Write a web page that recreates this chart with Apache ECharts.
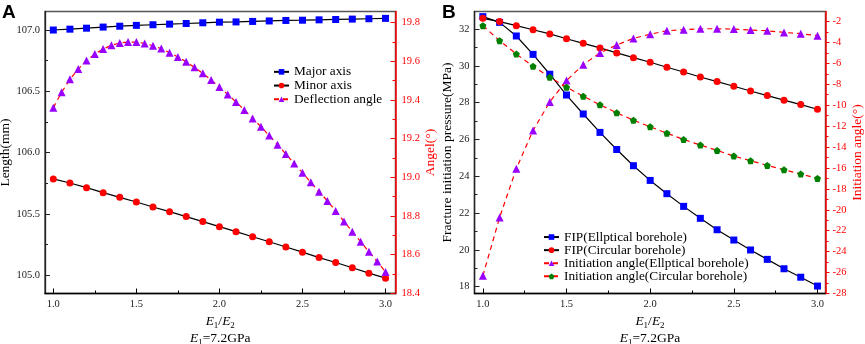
<!DOCTYPE html>
<html>
<head>
<meta charset="utf-8">
<script src="https://cdn.jsdelivr.net/npm/echarts@6/dist/echarts.min.js"></script>
<style>
  html, body { margin: 0; padding: 0; background: #fff; }
  #chart { width: 865px; height: 344px; }
</style>
</head>
<body>
<div id="chart"></div>
<script>
// x values (E1/E2)
const ratioStep01 = [1.0, 1.1, 1.2, 1.3, 1.4, 1.5, 1.6, 1.7, 1.8, 1.9, 2.0, 2.1, 2.2, 2.3, 2.4, 2.5, 2.6, 2.7, 2.8, 2.9, 3.0]
const ratioStep005 = [1.0, 1.05, 1.1, 1.15, 1.2, 1.25, 1.3, 1.35, 1.4, 1.45, 1.5, 1.55, 1.6, 1.65, 1.7, 1.75, 1.8, 1.85, 1.9, 1.95,
  2.0, 2.05, 2.1, 2.15, 2.2, 2.25, 2.3, 2.35, 2.4, 2.45, 2.5, 2.55, 2.6, 2.65, 2.7, 2.75, 2.8, 2.85, 2.9, 2.95, 3.0]

// panel A
const majorAxis = [107.000, 107.007, 107.015, 107.024, 107.031, 107.038, 107.043, 107.048, 107.053, 107.059, 107.064,
  107.066, 107.070, 107.074, 107.078, 107.080, 107.083, 107.086, 107.089, 107.092, 107.095]
const minorAxis = [105.786, 105.753, 105.715, 105.674, 105.636, 105.598, 105.557, 105.519, 105.479, 105.438, 105.397,
  105.356, 105.315, 105.274, 105.231, 105.189, 105.145, 105.105, 105.062, 105.018, 104.977]
const deflectionAngle = [19.360, 19.440, 19.507, 19.560, 19.604, 19.638, 19.664, 19.683, 19.695, 19.700, 19.700,
  19.693, 19.681, 19.666, 19.645, 19.623, 19.598, 19.569, 19.538, 19.504, 19.468, 19.429, 19.390, 19.348, 19.305,
  19.262, 19.216, 19.169, 19.121, 19.072, 19.024, 18.974, 18.926, 18.878, 18.826, 18.772, 18.719, 18.667, 18.615,
  18.564, 18.510]

// panel B
const fipElliptical = [32.67, 32.36, 31.62, 30.62, 29.54, 28.41, 27.38, 26.38, 25.45, 24.57, 23.77,
  23.05, 22.36, 21.71, 21.09, 20.53, 19.99, 19.48, 18.97, 18.51, 18.03]
const fipCircular = [32.58, 32.40, 32.18, 31.96, 31.73, 31.47, 31.22, 30.97, 30.70, 30.44, 30.19,
  29.92, 29.66, 29.39, 29.14, 28.89, 28.63, 28.38, 28.13, 27.89, 27.64]
const angleElliptical = [-26.31, -20.74, -16.07, -12.42, -9.69, -7.65, -6.13, -5.01, -4.25, -3.62, -3.22,
  -2.89, -2.79, -2.70, -2.70, -2.73, -2.82, -2.89, -3.05, -3.17, -3.36]
const angleCircular = [-2.40, -3.84, -5.11, -6.29, -7.34, -8.29, -9.15, -9.97, -10.73, -11.44, -12.07,
  -12.68, -13.28, -13.82, -14.33, -14.87, -15.31, -15.76, -16.17, -16.59, -17.00]

// tick labels
const ratioTicks = [1.0, 1.5, 2.0, 2.5, 3.0]
const ratioMinor = [1.25, 1.75, 2.25, 2.75]
const lengthTicks = [105.0, 105.5, 106.0, 106.5, 107.0]
const lengthMinor = [105.25, 105.75, 106.25, 106.75]
const angelTicks = [18.4, 18.6, 18.8, 19.0, 19.2, 19.4, 19.6, 19.8]
const angelMinor = [18.5, 18.7, 18.9, 19.1, 19.3, 19.5, 19.7]
const pressureTicks = [18, 20, 22, 24, 26, 28, 30, 32]
const pressureMinor = [19, 21, 23, 25, 27, 29, 31]
const initAngleTicks = [-28, -26, -24, -22, -20, -18, -16, -14, -12, -10, -8, -6, -4, -2]
const initAngleMinor = [-27, -25, -23, -21, -19, -17, -15, -13, -11, -9, -7, -5, -3]

const serif = 'Liberation Serif, Times New Roman, serif'
const RED = '#ff0000'
const pentagon = 'path://M0,-10L9.51,-3.09L5.88,8.09L-5.88,8.09L-9.51,-3.09Z'

const zip = (xs, ys) => xs.map((x, i) => [x, ys[i]])

const xName = '{i|E}{s|1}{n|/}{i|E}{s|2}\n{i|E}{s|1}{n|=7.2GPa}'
const xNameRich = {
  i: { fontFamily: serif, fontStyle: 'italic', fontSize: 13.5, lineHeight: 17, color: '#000' },
  n: { fontFamily: serif, fontSize: 13.5, lineHeight: 17, color: '#000' },
  s: { fontFamily: serif, fontSize: 9, lineHeight: 10, verticalAlign: 'bottom', color: '#000' },
}

const mainX = (gridIndex, max) => ({
  type: 'value', gridIndex, min: 0.95, max,
  name: xName, nameLocation: 'middle', nameGap: 15,
  nameTextStyle: { rich: xNameRich },
  axisLine: { lineStyle: { color: '#000', width: 1.3 } },
  axisTick: { inside: true, length: 5, customValues: ratioTicks, lineStyle: { color: '#000' } },
  axisLabel: { customValues: ratioTicks, formatter: (v) => v.toFixed(1), margin: 5, fontFamily: serif, fontSize: 10.5, color: '#222' },
  splitLine: { show: false },
})

const minorX = (gridIndex, max) => ({
  type: 'value', gridIndex, min: 0.95, max, position: 'bottom',
  axisLine: { show: false },
  axisTick: { inside: true, length: 3, customValues: ratioMinor, lineStyle: { color: '#000' } },
  axisLabel: { show: false },
  splitLine: { show: false },
})

const minorY = (gridIndex, position, min, max, values, color, inside) => ({
  type: 'value', gridIndex, position, min, max,
  axisLine: { show: false },
  axisTick: { show: true, inside, length: 3, customValues: values, lineStyle: { color } },
  axisLabel: { show: false },
  splitLine: { show: false },
})

const chart = echarts.init(document.getElementById('chart'))

chart.setOption({
  animation: false,
  backgroundColor: '#fff',
  textStyle: { fontFamily: serif },
  graphic: [
    { type: 'text', left: 2, top: 3, style: { text: 'A', font: 'bold 19px Liberation Sans, Arial, sans-serif', fill: '#000' } },
    { type: 'text', left: 442, top: 3, style: { text: 'B', font: 'bold 19px Liberation Sans, Arial, sans-serif', fill: '#000' } },
  ],
  grid: [
    { left: 45, top: 11.5, width: 350.5, height: 282, show: true, borderColor: '#555', borderWidth: 1.5, outerBoundsMode: 'none' },
    { left: 474.5, top: 11.5, width: 351, height: 282, show: true, borderColor: '#555', borderWidth: 1.5, outerBoundsMode: 'none' },
  ],
  legend: [
    {
      data: ['Major axis', 'Minor axis', 'Deflection angle'],
      orient: 'vertical', left: 268, top: 60,
      itemWidth: 15, itemHeight: 7, itemGap: 0,
      textStyle: { fontFamily: serif, fontSize: 13.3, lineHeight: 13.7, color: '#000' },
    },
    {
      data: ['FIP(Ellptical borehole)', 'FIP(Circular borehole)', 'Initiation angle(Ellptical borehole)', 'Initiation angle(Circular borehole)'],
      orient: 'vertical', left: 538, top: 225.5,
      itemWidth: 15, itemHeight: 7, itemGap: 0,
      textStyle: { fontFamily: serif, fontSize: 13.3, lineHeight: 13.1, color: '#000' },
    },
  ],
  xAxis: [
    mainX(0, 3.06),
    mainX(1, 3.048),
    minorX(0, 3.06),
    minorX(1, 3.048),
  ],
  yAxis: [
    {
      type: 'value', gridIndex: 0, position: 'left', min: 104.852, max: 107.151,
      name: 'Length(mm)', nameLocation: 'middle', nameRotate: 90, nameGap: 28,
      nameTextStyle: { fontFamily: serif, fontSize: 13.5, color: '#000' },
      axisLine: { show: true, lineStyle: { color: '#222', width: 1.3 } },
      axisTick: { inside: true, length: 5, customValues: lengthTicks, lineStyle: { color: '#222' } },
      axisLabel: { customValues: lengthTicks, formatter: (v) => v.toFixed(1), margin: 5, fontFamily: serif, fontSize: 10.5, color: '#222' },
      splitLine: { show: false },
    },
    {
      type: 'value', gridIndex: 0, position: 'right', min: 18.399, max: 19.858,
      name: 'Angel(°)', nameLocation: 'middle', nameRotate: 90, nameGap: 27,
      nameTextStyle: { fontFamily: serif, fontSize: 13.5, color: RED },
      axisLine: { show: true, lineStyle: { color: RED, width: 1.5 } },
      axisTick: { inside: true, length: 5, customValues: angelTicks, lineStyle: { color: RED } },
      axisLabel: { customValues: angelTicks, formatter: (v) => v.toFixed(1), margin: 6, fontFamily: serif, fontSize: 10.5, color: RED },
      splitLine: { show: false },
    },
    {
      type: 'value', gridIndex: 1, position: 'left', min: 17.625, max: 32.95,
      name: 'Fracture initiation pressure(MPa)', nameLocation: 'middle', nameRotate: 90, nameGap: 20,
      nameTextStyle: { fontFamily: serif, fontSize: 13.5, color: '#000' },
      axisLine: { show: true, lineStyle: { color: '#222', width: 1.3 } },
      axisTick: { inside: true, length: 5, customValues: pressureTicks, lineStyle: { color: '#222' } },
      axisLabel: { customValues: pressureTicks, margin: 5, fontFamily: serif, fontSize: 10.5, color: '#222' },
      splitLine: { show: false },
    },
    {
      type: 'value', gridIndex: 1, position: 'right', min: -28, max: -1.05,
      name: 'Initiation angle(°)', nameLocation: 'middle', nameRotate: 90, nameGap: 25,
      nameTextStyle: { fontFamily: serif, fontSize: 13.5, color: RED },
      axisLine: { show: true, lineStyle: { color: RED, width: 1.5 } },
      axisTick: { inside: false, length: 4, customValues: initAngleTicks, lineStyle: { color: RED } },
      axisLabel: { customValues: initAngleTicks, margin: 7, fontFamily: serif, fontSize: 10.5, color: RED },
      splitLine: { show: false },
    },
    minorY(0, 'left', 104.852, 107.151, lengthMinor, '#222', true),
    minorY(0, 'right', 18.399, 19.858, angelMinor, RED, true),
    minorY(1, 'left', 17.625, 32.95, pressureMinor, '#222', true),
    minorY(1, 'right', -28, -1.05, initAngleMinor, RED, false),
  ],
  series: [
    {
      name: 'Major axis', type: 'line', xAxisIndex: 0, yAxisIndex: 0,
      data: zip(ratioStep01, majorAxis),
      symbol: 'rect', symbolSize: 7,
      itemStyle: { color: '#0000ff' },
      lineStyle: { color: '#000', width: 1.2 },
    },
    {
      name: 'Minor axis', type: 'line', xAxisIndex: 0, yAxisIndex: 0,
      data: zip(ratioStep01, minorAxis),
      symbol: 'circle', symbolSize: 7,
      itemStyle: { color: RED },
      lineStyle: { color: '#000', width: 1.2 },
    },
    {
      name: 'Deflection angle', type: 'line', xAxisIndex: 0, yAxisIndex: 1,
      data: zip(ratioStep005, deflectionAngle),
      symbol: 'triangle', symbolSize: 8,
      itemStyle: { color: '#9900ff' },
      lineStyle: { color: RED, width: 1.2, type: [5, 4] },
    },
    {
      name: 'FIP(Ellptical borehole)', type: 'line', xAxisIndex: 1, yAxisIndex: 2,
      data: zip(ratioStep01, fipElliptical),
      symbol: 'rect', symbolSize: 7,
      itemStyle: { color: '#0000ff' },
      lineStyle: { color: '#000', width: 1.2 },
    },
    {
      name: 'FIP(Circular borehole)', type: 'line', xAxisIndex: 1, yAxisIndex: 2,
      data: zip(ratioStep01, fipCircular),
      symbol: 'circle', symbolSize: 7,
      itemStyle: { color: RED },
      lineStyle: { color: '#000', width: 1.2 },
    },
    {
      name: 'Initiation angle(Ellptical borehole)', type: 'line', xAxisIndex: 1, yAxisIndex: 3,
      data: zip(ratioStep01, angleElliptical),
      symbol: 'triangle', symbolSize: 8,
      itemStyle: { color: '#9900ff' },
      lineStyle: { color: RED, width: 1.2, type: [5, 4] },
    },
    {
      name: 'Initiation angle(Circular borehole)', type: 'line', xAxisIndex: 1, yAxisIndex: 3,
      data: zip(ratioStep01, angleCircular),
      symbol: pentagon, symbolSize: 7,
      itemStyle: { color: '#008000' },
      lineStyle: { color: RED, width: 1.2, type: [5, 4] },
    },
  ],
})
</script>
</body>
</html>
